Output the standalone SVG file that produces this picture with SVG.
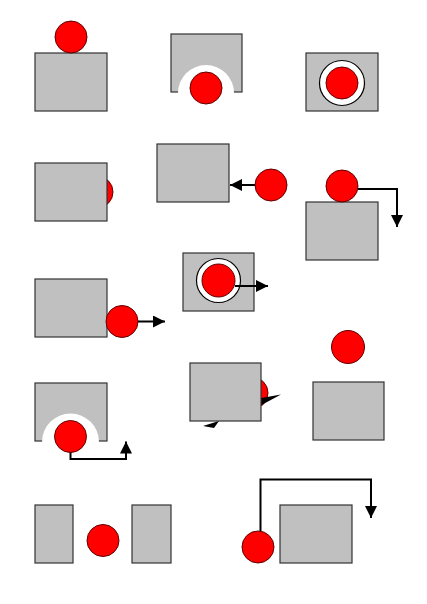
<svg xmlns="http://www.w3.org/2000/svg" width="427" height="604" viewBox="0 0 427 604">
<style>
.box{fill:#c0c0c0;stroke:#333333;stroke-width:1.2}
.ball{fill:#ff0000;stroke:#600000;stroke-width:1}
.ring{fill:#ffffff;stroke:#000000;stroke-width:1.2}
.gap{fill:#ffffff;stroke:none}
.arr{fill:none;stroke:#000000;stroke-width:2;marker-end:url(#ah)}
</style>
<defs>
<marker id="ah" markerUnits="userSpaceOnUse" markerWidth="14" markerHeight="12" refX="12" refY="6" orient="auto">
<path d="M0,0 L12,6 L0,12 Z" fill="#000000"/>
</marker>
</defs>
<rect width="427" height="604" fill="#ffffff"/>
<g id="n1">
<rect class="box" x="35" y="53" width="72" height="58"/>
<circle class="ball" cx="71" cy="37" r="16"/>
</g>
<g id="n2">
<rect class="box" x="171" y="34" width="71" height="58"/>
<circle class="gap" cx="206" cy="93" r="28"/>
<circle class="ball" cx="206" cy="88" r="16"/>
</g>
<g id="n3">
<rect class="box" x="306" y="53" width="72" height="58"/>
<circle class="ring" cx="342" cy="83" r="22.5"/>
<circle class="ball" cx="342" cy="83" r="16"/>
</g>
<g id="n4">
<circle class="ball" cx="97" cy="192" r="16"/>
<rect class="box" x="35" y="163" width="72" height="58"/>
</g>
<g id="n5">
<rect class="box" x="157" y="144" width="72" height="58"/>
<circle class="ball" cx="271" cy="185" r="16"/>
</g>
<g id="n6">
<rect class="box" x="306" y="202" width="72" height="58"/>
<circle class="ball" cx="342" cy="186" r="16"/>
</g>
<g id="n7">
<rect class="box" x="35" y="279" width="72" height="58"/>
<circle class="ball" cx="122" cy="321.5" r="16"/>
</g>
<g id="n8">
<rect class="box" x="183" y="253" width="71" height="58"/>
<circle class="ring" cx="218.5" cy="280.5" r="22"/>
<circle class="ball" cx="218.5" cy="280.5" r="16.5"/>
</g>
<g id="n9">
<rect class="box" x="35" y="383" width="72" height="58"/>
<circle class="gap" cx="70.5" cy="442" r="28.5"/>
<circle class="ball" cx="70.5" cy="436.5" r="16"/>
</g>
<g id="n10">
<circle class="ball" cx="252" cy="393" r="16"/>
<rect class="box" x="190" y="363" width="71" height="58"/>
</g>
<g id="n11">
<circle class="ball" cx="348" cy="347" r="16.5"/>
<rect class="box" x="313" y="382" width="71" height="58"/>
</g>
<g id="n12">
<rect class="box" x="35" y="505" width="38" height="58"/>
<circle class="ball" cx="103" cy="540.5" r="16"/>
<rect class="box" x="132" y="505" width="39" height="58"/>
</g>
<g id="n13">
<rect class="box" x="280" y="505" width="72" height="58"/>
<circle class="ball" cx="258" cy="547" r="16"/>
</g>
<g id="connectors">
<path class="arr" d="M255,185 L230,185"/>
<path class="arr" d="M358,189 L397,189 L397,227"/>
<path class="arr" d="M138,321.5 L165,321.5"/>
<path class="arr" d="M235,286 L268,286"/>
<path class="arr" d="M70.5,452.5 L70.5,459 L126,459 L126,441.5"/>
<polygon points="261.5,398 261.5,405 281,394.5" fill="#000000"/>
<polygon points="203,426 219,421 214,428" fill="#000000"/>
<path class="arr" d="M260.5,531 L260.5,479.5 L371,479.5 L371,518"/>
</g>
</svg>
